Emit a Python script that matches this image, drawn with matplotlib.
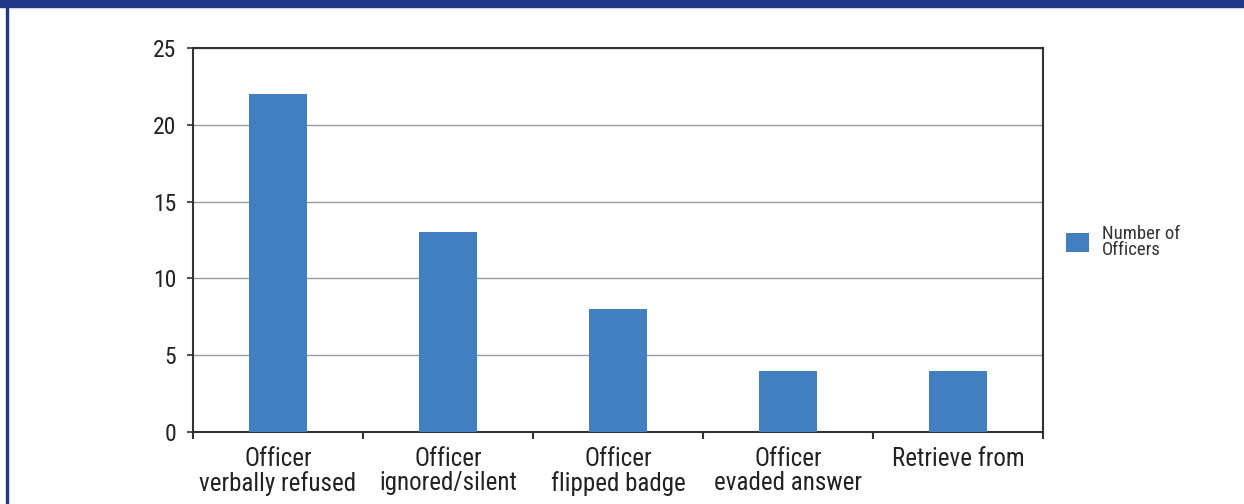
import matplotlib
matplotlib.use("Agg")
import matplotlib.pyplot as plt
from matplotlib.patches import Rectangle
from matplotlib import font_manager

categories = ["Officer\nverbally refused", "Officer\nignored/silent", "Officer\nflipped badge",
              "Officer\nevaded answer", "Retrieve from"]
values = [22, 13, 8, 4, 4]
yticks = [0, 5, 10, 15, 20, 25]
series_name = "Number of\nOfficers"

names = {f.name for f in font_manager.fontManager.ttflist}
fam = [n for n in ["Roboto Condensed", "Liberation Sans Narrow", "DejaVu Sans Condensed", "Liberation Sans"] if n in names]
plt.rcParams['font.family'] = fam + ["DejaVu Sans"]

W, H = 1244, 504
fig = plt.figure(figsize=(W / 100, H / 100), dpi=100)
ax = fig.add_axes([193 / W, 1 - 432 / H, 850 / W, 384 / H])

bar_color = "#417FC1"
x = list(range(len(categories)))
ax.bar(x, values, width=0.34, color=bar_color, zorder=3, label=series_name)
ax.set_xlim(-0.5, len(categories) - 0.5)
ax.set_ylim(0, 25)
ax.set_yticks(yticks)
ax.set_yticklabels([str(t) for t in yticks], fontsize=17, color="#222222")
ax.yaxis.grid(True, color="#9a9a9a", linewidth=1, zorder=0)
ax.set_xticks(x)
ax.set_xticklabels(categories, fontsize=18, color="#222222", linespacing=1.0)
ax.tick_params(axis='x', length=0, pad=11)
ax.set_xticks([i - 0.5 for i in range(len(categories) + 1)], minor=True)
ax.tick_params(axis='x', which='minor', length=5, width=1.5, color="#333333", direction='out')
ax.tick_params(axis='y', length=4, width=1.2, color="#333333", pad=8)
for s in ax.spines.values():
    s.set_color("#333333")
    s.set_linewidth(1.5)

leg = ax.legend(loc="center left", frameon=False,
                fontsize=13.5, handlelength=1.2, handleheight=1.2, handletextpad=0.7, labelspacing=0.2,
                borderpad=0, borderaxespad=0)
leg.set_bbox_to_anchor((1066 / W, 1 - 242 / H), transform=fig.transFigure)
for t in leg.get_texts():
    t.set_color("#333333")
    t.set_linespacing(0.9)

# banner and border
fig.patches.append(Rectangle((0, 1 - 7 / H), 1, 7 / H, transform=fig.transFigure, color="#1E3A86", zorder=10))
fig.patches.append(Rectangle((6 / W, 0), 2 / W, 1, transform=fig.transFigure, color="#1E3A86", zorder=10))

fig.savefig("out.png", dpi=100)
